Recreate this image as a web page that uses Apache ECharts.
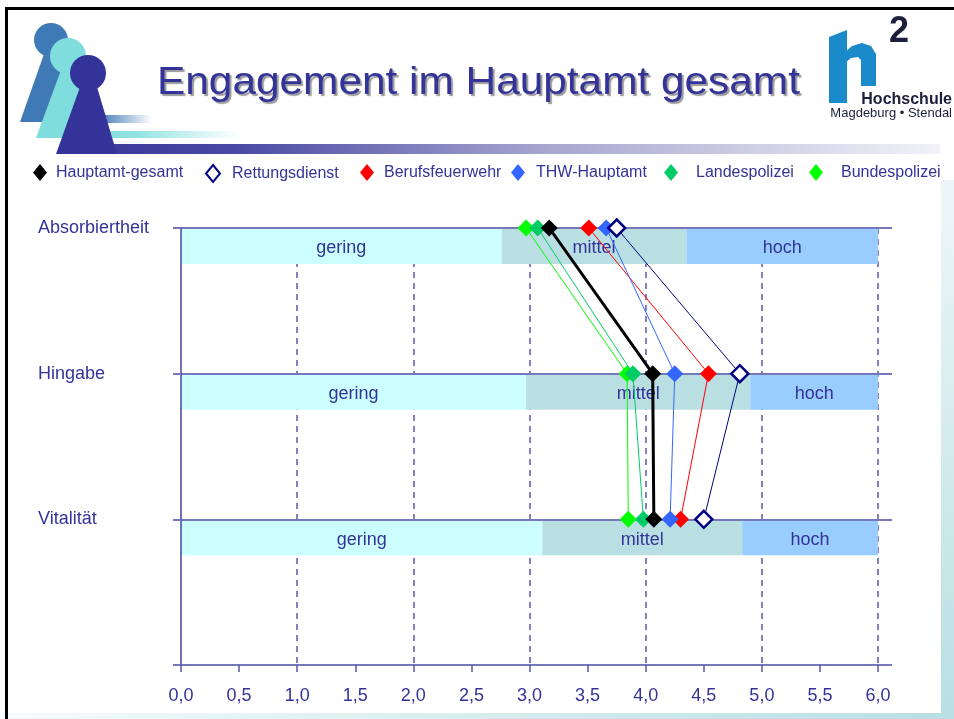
<!DOCTYPE html>
<html>
<head>
<meta charset="utf-8">
<title>Engagement im Hauptamt gesamt</title>
<script src="https://cdn.jsdelivr.net/npm/echarts@6/dist/echarts.min.js"></script>
<style>
html, body { margin: 0; padding: 0; background: #fff; }
#chart { width: 954px; height: 719px; }
</style>
</head>
<body>
<div id="chart"></div>
<script>
var FONT = "'Liberation Sans', Arial, sans-serif";
var NAVY = '#333399';

// y-Achse (oben nach unten), letzte Zeile leer fuer den unteren Rand
var categories = ['Absorbiertheit', 'Hingabe', 'Vitalität'];
var xTicks = [0, 0.5, 1, 1.5, 2, 2.5, 3, 3.5, 4, 4.5, 5, 5.5, 6];
var gridTicks = [1, 2, 3, 4, 5, 6];

// Mittelwerte je Gruppe
var seriesNames = ['Hauptamt-gesamt', 'Rettungsdienst', 'Berufsfeuerwehr', 'THW-Hauptamt', 'Landespolizei', 'Bundespolizei'];
var hauptamtGesamt = [3.17, 4.06, 4.07];
var rettungsdienst = [3.75, 4.81, 4.50];
var berufsfeuerwehr = [3.51, 4.54, 4.30];
var thwHauptamt = [3.66, 4.25, 4.21];
var landespolizei = [3.07, 3.89, 3.98];
var bundespolizei = [2.97, 3.84, 3.85];

// Bereiche gering / mittel / hoch
var bandNames = ['gering', 'mittel', 'hoch'];
var geringEnd = [2.76, 2.97, 3.11];
var mittelEnd = [4.35, 4.90, 4.83];
var hochEnd = [6.0, 6.0, 6.0];

var bandColors = { gering: '#ccffff', mittel: '#badfe2', hoch: '#99ccff' };

var bandData = [], bandLabels = [];
categories.forEach(function (c, i) {
    var edges = [0, geringEnd[i], mittelEnd[i], hochEnd[i]];
    for (var k = 0; k < 3; k++) {
        bandData.push([edges[k], edges[k + 1], i]);
        bandLabels.push(bandNames[k]);
    }
});

function makeLine(name, values, color, width, z, hollow) {
    return {
        name: name,
        type: 'line',
        z: z,
        symbol: 'diamond',
        symbolSize: 17,
        showAllSymbol: true,
        data: values.map(function (v, i) { return [v, categories[i]]; }),
        lineStyle: { color: color, width: width },
        itemStyle: hollow ? { color: '#ffffff', borderColor: color, borderWidth: 2.5 } : { color: color, borderWidth: 0 },
        emphasis: { disabled: true },
        animation: false
    };
}

var legendLeft = [33, 205, 360, 511, 664, 809];
var legendPad = [4, 7, 5, 6, 13, 13];
var legends = seriesNames.map(function (n, i) {
    return {
        data: [n],
        left: legendLeft[i],
        top: 164,
        padding: 0,
        icon: 'diamond',
        itemWidth: 14,
        itemHeight: 17,
        selectedMode: false,
        textStyle: { color: NAVY, fontSize: 16, fontFamily: FONT, padding: [0, 0, 0, legendPad[i]] }
    };
});

var chart = echarts.init(document.getElementById('chart'), null, { renderer: 'canvas' });

chart.setOption({
    backgroundColor: '#ffffff',
    animation: false,
    textStyle: { fontFamily: FONT },
    legend: legends,
    grid: { left: 181, top: 228, width: 711, height: 437, containLabel: false },
    xAxis: [{
        type: 'value',
        min: 0,
        max: 6.12,
        interval: 0.5,
        z: 2,
        axisLine: { lineStyle: { color: '#6a6ab5', width: 2 } },
        axisTick: { show: true, customValues: xTicks, length: 7, lineStyle: { color: '#5555aa', width: 1.5 } },
        axisLabel: {
            customValues: xTicks,
            margin: 22,
            color: NAVY,
            fontSize: 18,
            fontFamily: FONT,
            formatter: function (v) { return v.toFixed(1).replace('.', ','); }
        },
        splitLine: { show: false }
    }, {
        // nur fuer die gestrichelten Linien bei ganzen Werten
        type: 'value',
        min: 0,
        max: 6.12,
        z: 0,
        axisLine: { show: false },
        axisTick: { show: false, customValues: gridTicks },
        axisLabel: { show: false },
        splitLine: { show: true, lineStyle: { color: '#5a5aaa', width: 1.5, type: [6, 5] } }
    }],
    yAxis: {
        type: 'category',
        data: categories.concat(['']),
        inverse: true,
        boundaryGap: false,
        z: 2,
        axisLine: { lineStyle: { color: '#4444a0', width: 1.5 } },
        axisTick: { length: 8, lineStyle: { color: '#7777bb', width: 2 } },
        axisLabel: { align: 'left', margin: 143, color: NAVY, fontSize: 18, fontFamily: FONT, padding: [6, 0, 0, 0] },
        splitLine: { show: true, lineStyle: { color: '#7777bb', width: 2 } }
    },
    series: [
        {
            type: 'custom',
            z: 1,
            silent: true,
            data: bandData,
            encode: { x: [0, 1], y: 2 },
            renderItem: function (params, api) {
                var a = api.coord([api.value(0), api.value(2)]);
                var b = api.coord([api.value(1), api.value(2)]);
                var h = api.size([0, 1])[1] * 0.24;
                var name = bandLabels[params.dataIndex];
                return {
                    type: 'group',
                    children: [{
                        type: 'rect',
                        shape: { x: a[0], y: a[1] + 1, width: b[0] - a[0], height: h },
                        style: { fill: bandColors[name] }
                    }, {
                        type: 'text',
                        style: {
                            text: name,
                            x: (a[0] + b[0]) / 2,
                            y: a[1] + 3 + h / 2,
                            align: 'center',
                            verticalAlign: 'middle',
                            fill: NAVY,
                            fontSize: 18,
                            fontFamily: FONT
                        }
                    }]
                };
            }
        },
        makeLine(seriesNames[0], hauptamtGesamt, '#000000', 3, 6, false),
        makeLine(seriesNames[1], rettungsdienst, '#000080', 1, 8, true),
        makeLine(seriesNames[2], berufsfeuerwehr, '#ff0000', 1, 5, false),
        makeLine(seriesNames[3], thwHauptamt, '#3366ff', 1, 7, false),
        makeLine(seriesNames[4], landespolizei, '#00cc66', 1, 4, false),
        makeLine(seriesNames[5], bundespolizei, '#00ff00', 1, 3, false)
    ],
    graphic: [
        // Rahmen und Hintergrundstreifen
        { type: 'rect', shape: { x: 941, y: 180, width: 13, height: 539 }, style: { fill: new echarts.graphic.LinearGradient(0, 0, 0, 1, [{ offset: 0, color: '#eef7f8' }, { offset: 1, color: '#b8dfe2' }]) } },
        { type: 'rect', shape: { x: 0, y: 713, width: 954, height: 6 }, style: { fill: new echarts.graphic.LinearGradient(0, 0, 1, 0, [{ offset: 0, color: '#f6fbfb' }, { offset: 1, color: '#b8dfe2' }]) } },
        { type: 'rect', shape: { x: 5, y: 7, width: 949, height: 3 }, style: { fill: '#000' } },
        { type: 'rect', shape: { x: 5, y: 7, width: 3, height: 712 }, style: { fill: '#000' } },
        // Farbverlaufsbalken
        { type: 'rect', shape: { x: 60, y: 115, width: 92, height: 8 }, style: { fill: new echarts.graphic.LinearGradient(0, 0, 1, 0, [{ offset: 0, color: '#4a7ebb' }, { offset: 0.45, color: '#4a7ebb' }, { offset: 1, color: '#ffffff' }]) } },
        { type: 'rect', shape: { x: 60, y: 131, width: 180, height: 7 }, style: { fill: new echarts.graphic.LinearGradient(0, 0, 1, 0, [{ offset: 0, color: '#7fdede' }, { offset: 0.4, color: '#8fe2e2' }, { offset: 1, color: '#ffffff' }]) } },
        { type: 'rect', shape: { x: 60, y: 144, width: 880, height: 10 }, style: { fill: new echarts.graphic.LinearGradient(0, 0, 1, 0, [{ offset: 0, color: '#333399' }, { offset: 0.2, color: '#4a4aa4' }, { offset: 0.55, color: '#a6a6cf' }, { offset: 1, color: '#f2f2f8' }]) } },
        // Figuren
        { type: 'polygon', shape: { points: [[44, 54], [58, 54], [82, 122], [20, 122]] }, style: { fill: '#3f7ab7' } },
        { type: 'circle', shape: { cx: 51, cy: 40, r: 17 }, style: { fill: '#3f7ab7' } },
        { type: 'polygon', shape: { points: [[61, 70], [76, 70], [100, 138], [36, 138]] }, style: { fill: '#7fdddd' } },
        { type: 'circle', shape: { cx: 68, cy: 56, r: 18 }, style: { fill: '#7fdddd' } },
        { type: 'polygon', shape: { points: [[80, 87], [97, 87], [117, 154], [56, 154]] }, style: { fill: '#333399' } },
        { type: 'circle', shape: { cx: 88, cy: 73, r: 18 }, style: { fill: '#333399' } },
        // Titel
        {
            type: 'text', x: 157, y: 84, scaleX: 1.115,
            style: {
                text: 'Engagement im Hauptamt gesamt',
                x: 0, y: 0,
                verticalAlign: 'middle',
                fill: NAVY,
                fontSize: 38,
                fontFamily: FONT,
                textShadowColor: 'rgba(0,0,0,0.4)',
                textShadowOffsetX: 2,
                textShadowOffsetY: 2,
                textShadowBlur: 1
            }
        },
        // Logo
        { type: 'polygon', shape: { points: [[829, 37], [847, 30], [847, 103], [829, 103]] }, style: { fill: '#1a8acb' } },
        { type: 'polygon', shape: { points: [[845, 52], [852, 46], [862, 43], [871, 46], [876, 54], [876, 86], [861, 86], [861, 60], [858, 57], [851, 58], [845, 63]] }, style: { fill: '#1a8acb' } },
        { type: 'text', style: { text: '2', x: 899, y: 32, align: 'center', verticalAlign: 'middle', fill: '#1b1f3b', fontSize: 36, fontWeight: 'bold', fontFamily: FONT } },
        { type: 'text', style: { text: 'Hochschule', x: 952, y: 100, align: 'right', verticalAlign: 'middle', fill: '#1b1f3b', fontSize: 16, fontWeight: 'bold', fontFamily: FONT } },
        { type: 'text', style: { text: 'Magdeburg • Stendal', x: 952, y: 113, align: 'right', verticalAlign: 'middle', fill: '#1b1f3b', fontSize: 13, fontFamily: FONT } }
    ]
});
</script>
</body>
</html>
